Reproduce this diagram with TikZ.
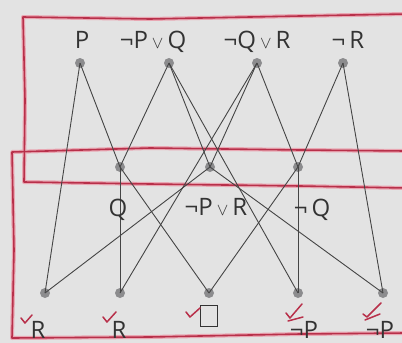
\documentclass[tikz,border=0pt]{standalone}
\usepackage{fontspec}
\setmainfont{Open Sans}
\begin{document}
\begin{tikzpicture}[x=1pt,y=-1pt,
  dot/.style={circle,fill=dotgray,inner sep=0pt,minimum size=10pt},
  lbl/.style={text=txtgray,font=\fontsize{24}{26}\selectfont,inner sep=0pt,anchor=base},
  edge/.style={draw=lingray,line width=0.9pt},
  redpen/.style={draw=penred,line width=1.6pt,line cap=round,line join=round},
  redglow/.style={draw=glowred,line width=4pt,line cap=round,line join=round},
  chk/.style={draw=penred,line width=1.5pt,line cap=round,line join=round}]
\definecolor{bg}{HTML}{E3E3E3}
\definecolor{dotgray}{HTML}{8C8C8E}
\definecolor{lingray}{HTML}{454545}
\definecolor{txtgray}{HTML}{333333}
\definecolor{penred}{HTML}{B8304A}
\definecolor{glowred}{HTML}{E9A7B3}
\useasboundingbox (0,0) rectangle (402,343);
\fill[bg] (0,0) rectangle (402,343);
% red hand-drawn boxes
\foreach \s in {redglow,redpen}{
  \draw[\s] (405,14) -- (300,16) -- (150,19) -- (23,17) -- (25,100) -- (24,182) -- (150,184) -- (300,186) -- (405,188);
  \draw[\s] (405,151) -- (300,150) -- (150,148) -- (12,152) -- (14,250) -- (12,338) -- (150,337) -- (300,334) -- (405,333);
}
% nodes
\node[dot] (a) at (80,63) {};
\node[dot] (b) at (169,63) {};
\node[dot] (c) at (257,63) {};
\node[dot] (d) at (343,63) {};
\node[dot] (e) at (120,167) {};
\node[dot] (f) at (210,167) {};
\node[dot] (g) at (298,167) {};
\node[dot] (h) at (45,293) {};
\node[dot] (i) at (120,293) {};
\node[dot] (j) at (209,293) {};
\node[dot] (k) at (298,293) {};
\node[dot] (l) at (383,293) {};
% edges
\draw[edge] (a.center) -- (e.center);
\draw[edge] (b.center) -- (e.center);
\draw[edge] (b.center) -- (f.center);
\draw[edge] (c.center) -- (f.center);
\draw[edge] (c.center) -- (g.center);
\draw[edge] (d.center) -- (g.center);
\draw[edge] (a.center) -- (h.center);
\draw[edge] (f.center) -- (h.center);
\draw[edge] (e.center) -- (i.center);
\draw[edge] (c.center) -- (i.center);
\draw[edge] (e.center) -- (j.center);
\draw[edge] (g.center) -- (j.center);
\draw[edge] (b.center) -- (k.center);
\draw[edge] (g.center) -- (k.center);
\draw[edge] (f.center) -- (l.center);
\draw[edge] (d.center) -- (l.center);
% labels
\node[lbl] (la) at (82,48) {P};
\node[lbl] (lb) at (153,48) {¬P\,{\fontsize{18}{20}\selectfont$\vee$}\,Q};
\node[lbl] (lc) at (257,48) {¬Q\,{\fontsize{18}{20}\selectfont$\vee$}\,R};
\node[lbl] (ld) at (348,48) {¬\,R};
\node[lbl] (le) at (118,216) {Q};
\node[lbl] (lf) at (216,215) {¬P\,{\fontsize{18}{20}\selectfont$\vee$}\,R};
\node[lbl] (lg) at (312,216) {¬\,Q};
\node[lbl] (lh) at (38,338) {R};
\node[lbl] (li) at (119,338) {R};
\node[draw=txtgray,line width=1.6pt,minimum width=17pt,minimum height=21pt,inner sep=0pt] (lj) at (209,316) {};
\node[lbl] (lk) at (304,338) {¬P};
\node[lbl] (ll) at (380,338) {¬P};
% checkmarks
\draw[chk] (21,318) -- (25,323) -- (32,315);
\draw[chk] (103,317) -- (107,322) -- (116,312);
\draw[chk] (186,312) -- (190,317) -- (200,308);
\draw[chk] (286,313) -- (290,318) -- (302,304);
\draw[chk] (288,321) -- (303,317);
\draw[chk] (363,314) -- (367,317) -- (381,303);
\draw[chk] (365,320) -- (380,314);
\end{tikzpicture}
\end{document}
